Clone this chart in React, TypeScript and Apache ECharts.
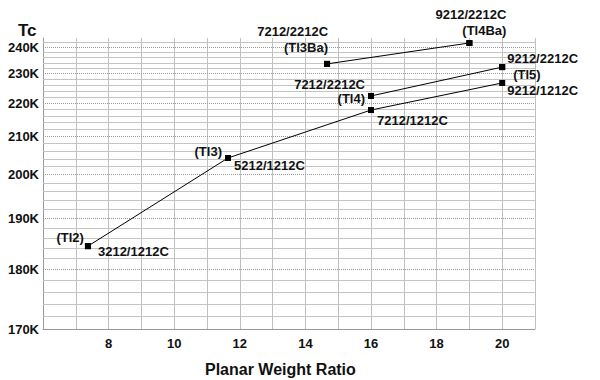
import React, { useEffect, useRef } from "react";
import * as echarts from "echarts";

// Data
const ratio1212 = [7.37, 11.64, 16, 20];
const tc1212 = [184.4, 204.2, 217.8, 226.7];
const names1212 = ["3212/1212C", "5212/1212C", "7212/1212C", "9212/1212C"];
const tl1212 = ["(Tl2)", "(Tl3)"];

const ratio2212 = [16, 20];
const tc2212 = [222.3, 232.4];
const names2212 = ["7212/2212C", "9212/2212C"];
const tl2212 = ["(Tl4)", "(Tl5)"];

const ratioBa = [14.66, 19];
const tcBa = [233.6, 241.9];
const namesBa = ["7212/2212C", "9212/2212C"];
const tlBa = ["(Tl3Ba)", "(Tl4Ba)"];

const yTickTc = [170, 180, 190, 200, 210, 220, 230, 240];
const xTickLabels = [8, 10, 12, 14, 16, 18, 20];

// Label placement (styling)
const nameOff1212: [number, number, string][] = [[10, 5, "left"], [6, 8, "left"], [6, 10, "left"], [5, 8, "left"]];
const tlOff1212: [number, number, string][] = [[-4, -9, "right"], [-6, -6, "right"]];
const nameOff2212: [number, number, string][] = [[-6, -11, "right"], [5, -9, "left"]];
const tlOff2212: [number, number, string][] = [[-6, 3, "right"], [11, 7, "left"]];
const nameOffBa: [number, number, string][] = [[1, -32, "right"], [37, -28, "right"]];
const tlOffBa: [number, number, string][] = [[1, -16, "right"], [37, -12, "right"]];

const EXP = 1.8;
const toU = (t: number) => -1e6 * Math.pow(t, -EXP);
const fromU = (u: number) => Math.pow(-u / 1e6, -1 / EXP);

const FONT = "'Liberation Sans', Arial, sans-serif";
const labelBase = { show: true, fontWeight: "bold", fontSize: 13, color: "#111", fontFamily: FONT, verticalAlign: "middle" };

function pts(xs: number[], ts: number[], texts: string[], offs: [number, number, string][]) {
  return xs.map((x, i) => {
    const o = offs[i];
    const item: any = { value: [x, toU(ts[i])] };
    if (o && texts[i]) {
      item.label = { ...labelBase, formatter: texts[i], position: [3 + o[0], 3 + o[1]], align: o[2] };
    } else {
      item.label = { show: false };
    }
    return item;
  });
}

export default function App() {
  const ref = useRef<HTMLDivElement>(null);
  useEffect(() => {
    if (!ref.current) return;
    const chart = echarts.init(ref.current, undefined, { renderer: "svg" });
    const gridLines: any[] = [];
    for (let t = 170; t <= 244; t += 2) {
      const major = t % 10 === 0;
      gridLines.push({
        yAxis: toU(t),
        lineStyle: major
          ? { color: "#9a9a9a", width: 1, type: [1, 1] }
          : { color: "#c4c4c4", width: 1, type: "solid" },
      });
    }
    const lineSeries = (xs: number[], ts: number[], names: string[], offs: any) => ({
      type: "line",
      z: 3,
      data: pts(xs, ts, names, offs),
      symbol: "rect",
      symbolSize: 6,
      showAllSymbol: true,
      itemStyle: { color: "#000", opacity: 1 },
      lineStyle: { color: "#000", width: 1 },
      label: { show: true },
    });
    const tlSeries = (xs: number[], ts: number[], names: string[], offs: any) => ({
      type: "scatter",
      z: 4,
      data: pts(xs, ts, names, offs).filter((_: any, i: number) => !!names[i]),
      symbol: "rect",
      symbolSize: 6,
      itemStyle: { color: "#000", opacity: 1 },
    });
    chart.setOption({
      animation: false,
      backgroundColor: "#fff",
      title: [
        { text: "Tc", left: 13, top: 17, textStyle: { fontSize: 17, fontWeight: "bold", color: "#111", fontFamily: FONT } },
        { text: "Planar Weight Ratio", left: 200, top: 356, textStyle: { fontSize: 16, fontWeight: "bold", color: "#111", fontFamily: FONT } },
      ],
      grid: { left: 43, right: 65, top: 38, bottom: 51, containLabel: false },
      xAxis: {
        type: "value",
        min: 6,
        max: 21,
        interval: 1,
        axisLine: { show: true, lineStyle: { color: "#999" } },
        axisTick: { show: false },
        splitLine: { show: true, lineStyle: { color: "#c0c0c0", width: 1 } },
        axisLabel: {
          margin: 8,
          fontWeight: "bold",
          fontSize: 13,
          color: "#111",
          fontFamily: FONT,
          formatter: (v: number) => (xTickLabels.indexOf(v) >= 0 ? String(v) : ""),
        },
      },
      yAxis: {
        type: "value",
        min: toU(170),
        max: toU(244),
        axisLine: { show: true, lineStyle: { color: "#999" } },
        axisTick: { show: false },
        splitLine: { show: false },
        axisLabel: {
          customValues: yTickTc.map(toU),
          margin: 4,
          fontWeight: "bold",
          fontSize: 13,
          color: "#111",
          fontFamily: FONT,
          formatter: (v: number) => Math.round(fromU(v)) + "K",
        },
      },
      series: [
        {
          type: "line",
          z: 1,
          data: [],
          markLine: {
            z: 1,
            silent: true,
            symbol: ["none", "none"],
            label: { show: false },
            animation: false,
            data: gridLines,
          },
        },
        lineSeries(ratio1212, tc1212, names1212, nameOff1212),
        lineSeries(ratio2212, tc2212, names2212, nameOff2212),
        lineSeries(ratioBa, tcBa, namesBa, nameOffBa),
        tlSeries(ratio1212, tc1212, tl1212, tlOff1212),
        tlSeries(ratio2212, tc2212, tl2212, tlOff2212),
        tlSeries(ratioBa, tcBa, tlBa, tlOffBa),
      ],
    });
    return () => chart.dispose();
  }, []);
  return <div ref={ref} style={{ position: "fixed", left: 0, top: 0, width: 600, height: 380 }} />;
}
